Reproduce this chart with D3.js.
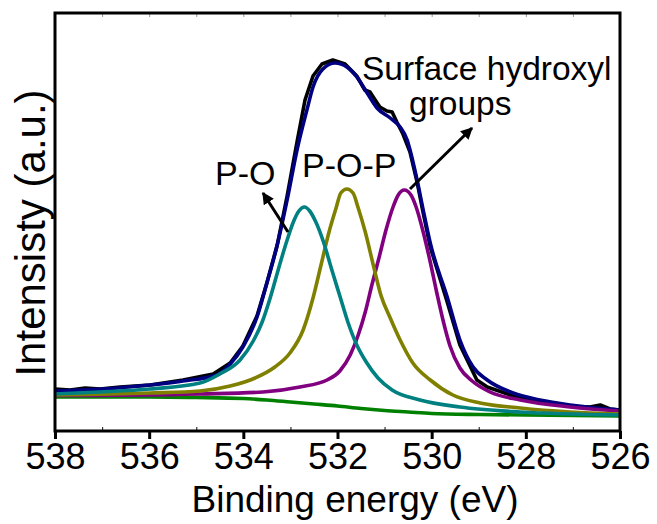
<!DOCTYPE html>
<html>
<head>
<meta charset="utf-8">
<script src="https://cdn.jsdelivr.net/npm/d3@7"></script>
<style>
  body { margin: 0; background: #fff; }
  text { font-family: "Liberation Sans", Arial, sans-serif; fill: #000; }
</style>
</head>
<body>
<svg id="chart" width="657" height="524"></svg>
<script>
'use strict';

// binding energy (eV), intensity (a.u.)
const rawData = [
  [538, 42], [537.68, 41], [537.36, 43], [537.04, 42], [536.62, 44], [535.98, 46],
  [535.28, 51], [534.64, 57], [534.28, 68], [534.01, 85], [533.71, 115], [533.5, 148],
  [533.28, 186], [533.07, 235], [532.86, 289], [532.69, 331], [532.52, 355], [532.33, 367],
  [532.1, 371], [531.84, 367], [531.59, 355], [531.42, 341], [531.31, 339], [531.2, 331],
  [531.1, 324], [530.95, 320], [530.84, 319], [530.74, 309], [530.61, 297], [530.46, 279],
  [530.31, 249], [530.18, 218], [530.03, 184], [529.67, 129], [529.4, 86], [529.04, 51],
  [528.82, 44], [528.27, 35], [527.7, 29], [527.06, 25], [526.64, 24], [526.42, 26],
  [526.21, 22], [526, 21]
];
const envelope = [
  [538, 40], [536.68, 43], [535.98, 46], [535.28, 50], [534.56, 56], [534.28, 67],
  [534.01, 84], [533.71, 114], [533.5, 148], [533.28, 186], [533.07, 231], [532.86, 281],
  [532.65, 321], [532.52, 344], [532.31, 362], [532.05, 368], [531.8, 364], [531.59, 354],
  [531.37, 338], [531.16, 323], [530.88, 313], [530.67, 304], [530.52, 291], [530.46, 281],
  [530.31, 251], [530.18, 221], [530.03, 188], [529.67, 134], [529.4, 91], [529.12, 64],
  [528.82, 51], [528.27, 38], [527.7, 31], [527.06, 26], [526, 21]
];
const peakPO = [
  [538, 37], [537.04, 39], [535.98, 42], [534.92, 48], [534.5, 57], [534.07, 71],
  [533.79, 90], [533.6, 109], [533.43, 133], [533.26, 161], [533.09, 188], [532.92, 211],
  [532.82, 220], [532.7, 224], [532.59, 220], [532.46, 209], [532.29, 188], [532.12, 161],
  [531.95, 135], [531.78, 109], [531.59, 86], [531.39, 69], [531.14, 53], [530.84, 41],
  [530.25, 31], [529.4, 24], [528.12, 19], [526, 16]
];
const peakPOP = [
  [538, 36], [535.98, 38], [534.92, 40], [534.28, 45], [533.75, 53], [533.33, 64],
  [533.01, 78], [532.73, 101], [532.52, 133], [532.35, 166], [532.18, 199], [532.03, 223],
  [531.93, 238], [531.8, 242], [531.67, 238], [531.56, 223], [531.41, 199], [531.24, 166],
  [531.08, 136], [530.88, 113], [530.67, 91], [530.4, 68], [530.03, 51], [529.55, 36],
  [528.97, 28], [528.12, 23], [527.06, 19], [526, 17]
];
const peakOH = [
  [538, 35.5], [535.98, 36], [534.92, 37], [533.58, 39], [532.8, 44], [532.22, 51],
  [531.95, 60], [531.73, 76], [531.56, 96], [531.41, 119], [531.27, 146], [531.12, 173],
  [530.97, 201], [530.82, 224], [530.71, 236], [530.58, 241], [530.44, 236], [530.33, 224],
  [530.18, 199], [530.03, 169], [529.89, 138], [529.76, 111], [529.61, 85], [529.4, 63],
  [529.14, 50], [528.76, 39], [528.12, 31], [527.06, 24], [526, 20]
];
const background = [
  [538, 34], [536, 34], [535, 33.5], [534, 32.5], [533.5, 31], [533, 29], [532.5, 27],
  [532, 25], [531.5, 22.5], [531, 20.5], [530.5, 19], [530, 17.5], [529, 16.5], [528, 16],
  [526, 15]
];

const majorTicks = [538, 536, 534, 532, 530, 528, 526];
const minorTicks = [537, 535, 533, 531, 529, 527];

const labels = {
  x: 'Binding energy (eV)',
  y: 'Intensisty (a.u.)'
};

const margin = { left: 55, top: 13, right: 37, bottom: 93 };
const width = 657;
const height = 524;

const svg = d3.select('#chart');

const x = d3.scaleLinear().domain([538, 526]).range([margin.left, width - margin.right]);
const y = d3.scaleLinear().domain([0, 418]).range([height - margin.bottom, margin.top]);

const smoothLine = d3.line()
  .x(d => x(d[0]))
  .y(d => y(d[1]))
  .curve(d3.curveMonotoneX);

const roughLine = d3.line()
  .x(d => x(d[0]))
  .y(d => y(d[1]))
  .curve(d3.curveLinear);

const plot = svg.append('g');

const drawSeries = (data, color, line) => {
  plot.append('path')
    .datum(data)
    .attr('fill', 'none')
    .attr('stroke', color)
    .attr('stroke-width', 3.6)
    .attr('stroke-linejoin', 'round')
    .attr('d', line);
};

drawSeries(rawData, '#000000', roughLine);
drawSeries(envelope, '#000080', smoothLine);
drawSeries(background, '#008000', smoothLine);
drawSeries(peakOH, '#800080', smoothLine);
drawSeries(peakPOP, '#808000', smoothLine);
drawSeries(peakPO, '#008080', smoothLine);

// axes
const plotBottom = height - margin.bottom;
const plotTop = margin.top;

const bottomAxis = svg.append('g')
  .attr('transform', `translate(0,${plotBottom})`)
  .call(d3.axisBottom(x).tickValues(majorTicks).tickSize(8).tickSizeOuter(0).tickPadding(4).tickFormat(d3.format('d')));
bottomAxis.select('.domain').remove();
bottomAxis.selectAll('.tick line').attr('stroke-width', 3);
bottomAxis.selectAll('.tick text')
  .style('font-size', '36px')
  .attr('dy', '0.71em');

const bottomMinor = svg.append('g')
  .attr('transform', `translate(0,${plotBottom})`)
  .call(d3.axisBottom(x).tickValues(minorTicks).tickSize(-4).tickSizeOuter(0).tickFormat(''));
bottomMinor.select('.domain').remove();
bottomMinor.selectAll('.tick line').attr('stroke-width', 1.2).attr('stroke', '#333');

const topAxis = svg.append('g')
  .attr('transform', `translate(0,${plotTop})`)
  .call(d3.axisTop(x).tickValues(majorTicks.concat(minorTicks)).tickSize(-4).tickSizeOuter(0).tickFormat(''));
topAxis.select('.domain').remove();
topAxis.selectAll('.tick line').attr('stroke-width', 1).attr('stroke', '#999');

svg.append('rect')
  .attr('x', x(538))
  .attr('y', plotTop)
  .attr('width', x(526) - x(538))
  .attr('height', plotBottom - plotTop)
  .attr('fill', 'none')
  .attr('stroke', '#000')
  .attr('stroke-width', 3);

// axis titles
svg.append('text')
  .attr('x', 355)
  .attr('y', 512)
  .attr('text-anchor', 'middle')
  .style('font-size', '37px')
  .text(labels.x);

svg.append('text')
  .attr('transform', 'translate(45,233) rotate(-90)')
  .attr('text-anchor', 'middle')
  .style('font-size', '42px')
  .text(labels.y);

// annotations
const defs = svg.append('defs');
defs.append('marker')
  .attr('id', 'head')
  .attr('viewBox', '0 0 10 10')
  .attr('refX', 9)
  .attr('refY', 5)
  .attr('markerWidth', 4)
  .attr('markerHeight', 4)
  .attr('markerUnits', 'strokeWidth')
  .attr('orient', 'auto')
  .append('path')
  .attr('d', 'M0,0 L10,5 L0,10 Z')
  .attr('fill', '#000');

const arrow = (x1, y1, x2, y2) => {
  svg.append('line')
    .attr('x1', x1).attr('y1', y1)
    .attr('x2', x2).attr('y2', y2)
    .attr('stroke', '#000')
    .attr('stroke-width', 3)
    .attr('marker-end', 'url(#head)');
};

const note = (tx, ty, str, size) => {
  svg.append('text')
    .attr('x', tx)
    .attr('y', ty)
    .style('font-size', size)
    .text(str);
};

note(215, 185, 'P-O', '34px');
note(302, 177, 'P-O-P', '34px');
note(362, 80, 'Surface hydroxyl', '33.5px');
note(409, 115, 'groups', '33.5px');

arrow(288, 232, 263, 193);
arrow(410, 189, 472, 128);
</script>
</body>
</html>
